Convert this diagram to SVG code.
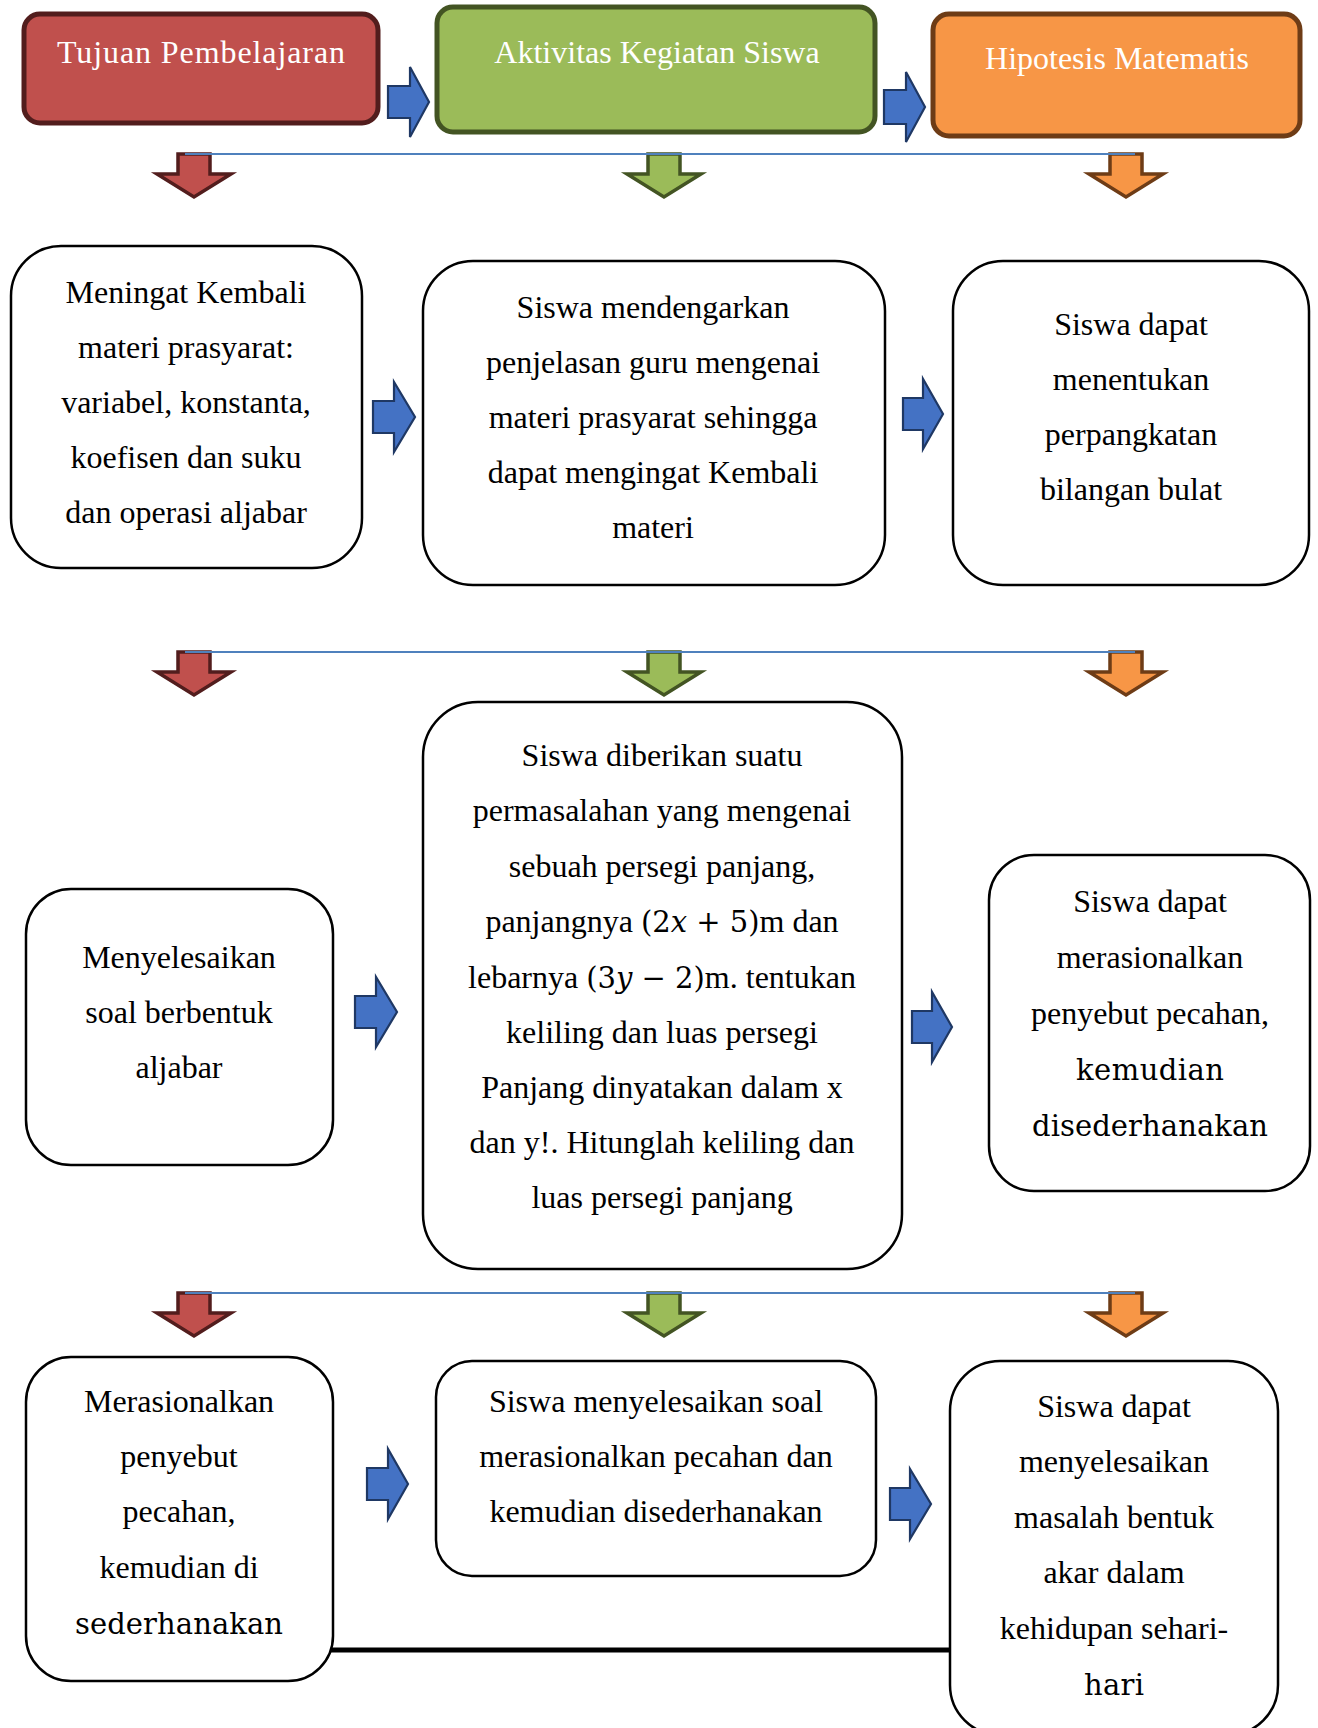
<svg xmlns="http://www.w3.org/2000/svg" width="1318" height="1728" viewBox="0 0 1318 1728">
<style>
.bg{fill:#ffffff}
.box{fill:#ffffff;stroke:#000000;stroke-width:2.5}
.hred{fill:#c0504d;stroke:#521d1d;stroke-width:5}
.hgrn{fill:#9bbb59;stroke:#435423;stroke-width:5}
.horg{fill:#f79646;stroke:#6e3c16;stroke-width:5}
.dred{fill:#c0504d;stroke:#521d1d;stroke-width:3.5;stroke-linejoin:miter}
.dgrn{fill:#9bbb59;stroke:#435423;stroke-width:3.5;stroke-linejoin:miter}
.dorg{fill:#f79646;stroke:#6e3c16;stroke-width:3.5;stroke-linejoin:miter}
.rarr{fill:#4472c4;stroke:#1f3864;stroke-width:2.2;stroke-linejoin:miter}
.bline{stroke:#4f81bd;stroke-width:2;fill:none}
.thick{stroke:#000000;stroke-width:5;fill:none}
text{font-family:"Liberation Serif","Times New Roman",serif;font-size:32px;fill:#000000;text-anchor:middle}
.ht{fill:#ffffff;font-size:32px}
.cm{font-family:"DejaVu Serif","Liberation Serif",serif;font-size:29px}
.mi{font-family:"DejaVu Serif","Liberation Serif",serif;font-size:29px}
</style>
<rect class="bg" x="0" y="0" width="1318" height="1728"/>

<g id="connectors">
  <!-- header right arrows -->
  <path class="rarr" d="M388,86 H410 V67 L429,102 L410,137 V118 H388 Z"/>
  <path class="rarr" d="M884,90 H906 V72 L925,107 L906,142 V124 H884 Z"/>
  <!-- row 1 down arrows -->
  <path class="dred" d="M178,154 H210 V174 H231 L194,197 L157,174 H178 Z"/>
  <path class="dgrn" d="M648,154 H680 V174 H701 L664,197 L627,174 H648 Z"/>
  <path class="dorg" d="M1110,154 H1142 V174 H1163 L1126,197 L1089,174 H1110 Z"/>
  <line class="bline" x1="185" y1="154" x2="1135" y2="154"/>
  <!-- row 2 right arrows -->
  <path class="rarr" d="M373,401 H394 V382 L415,417 L394,452 V433 H373 Z"/>
  <path class="rarr" d="M903,398 H923 V379 L943,414 L923,449 V430 H903 Z"/>
  <!-- row 2 down arrows -->
  <path class="dred" d="M178,652 H210 V672 H231 L194,695 L157,672 H178 Z"/>
  <path class="dgrn" d="M648,652 H680 V672 H701 L664,695 L627,672 H648 Z"/>
  <path class="dorg" d="M1110,652 H1142 V672 H1163 L1126,695 L1089,672 H1110 Z"/>
  <line class="bline" x1="185" y1="652" x2="1135" y2="652"/>
  <!-- row 3 right arrows -->
  <path class="rarr" d="M355,996 H376 V977 L397,1012 L376,1047 V1028 H355 Z"/>
  <path class="rarr" d="M912,1011 H932 V992 L952,1027 L932,1062 V1043 H912 Z"/>
  <!-- row 3 down arrows -->
  <path class="dred" d="M178,1293 H210 V1313 H231 L194,1336 L157,1313 H178 Z"/>
  <path class="dgrn" d="M648,1293 H680 V1313 H701 L664,1336 L627,1313 H648 Z"/>
  <path class="dorg" d="M1110,1293 H1142 V1313 H1163 L1126,1336 L1089,1313 H1110 Z"/>
  <line class="bline" x1="185" y1="1293" x2="1135" y2="1293"/>
  <!-- row 4 right arrows -->
  <path class="rarr" d="M367,1468 H388 V1449 L408,1484 L388,1519 V1500 H367 Z"/>
  <path class="rarr" d="M890,1488 H910 V1469 L931,1504 L910,1539 V1520 H890 Z"/>
  <!-- bottom thick line -->
  <line class="thick" x1="331" y1="1650" x2="952" y2="1650"/>
</g>

<g id="h-tujuan">
  <rect class="hred" x="24" y="14" width="354" height="109" rx="16"/>
  <text class="ht" x="201" y="63" textLength="288">Tujuan Pembelajaran</text>
</g>
<g id="h-aktivitas">
  <rect class="hgrn" x="437" y="7" width="438" height="125" rx="16"/>
  <text class="ht" x="657" y="63">Aktivitas Kegiatan Siswa</text>
</g>
<g id="h-hipotesis">
  <rect class="horg" x="933" y="14" width="367" height="122" rx="16"/>
  <text class="ht" x="1117" y="69">Hipotesis Matematis</text>
</g>

<g id="r2-tujuan">
  <rect class="box" x="11" y="246" width="351" height="322" rx="50"/>
  <text x="186" y="303">Meningat Kembali</text>
  <text x="186" y="358">materi prasyarat:</text>
  <text x="186" y="413">variabel, konstanta,</text>
  <text x="186" y="468">koefisen dan suku</text>
  <text x="186" y="523">dan operasi aljabar</text>
</g>
<g id="r2-aktivitas">
  <rect class="box" x="423" y="261" width="462" height="324" rx="50"/>
  <text x="653" y="318">Siswa mendengarkan</text>
  <text x="653" y="373">penjelasan guru mengenai</text>
  <text x="653" y="428">materi prasyarat sehingga</text>
  <text x="653" y="483">dapat mengingat Kembali</text>
  <text x="653" y="538">materi</text>
</g>
<g id="r2-hipotesis">
  <rect class="box" x="953" y="261" width="356" height="324" rx="50"/>
  <text x="1131" y="335">Siswa dapat</text>
  <text x="1131" y="390">menentukan</text>
  <text x="1131" y="445">perpangkatan</text>
  <text x="1131" y="500">bilangan bulat</text>
</g>

<g id="r3-tujuan">
  <rect class="box" x="26" y="889" width="307" height="276" rx="45"/>
  <text x="179" y="968">Menyelesaikan</text>
  <text x="179" y="1023">soal berbentuk</text>
  <text x="179" y="1078">aljabar</text>
</g>
<g id="r3-aktivitas">
  <rect class="box" x="423" y="702" width="479" height="567" rx="55"/>
  <text x="662" y="766">Siswa diberikan suatu</text>
  <text x="662" y="821">permasalahan yang mengenai</text>
  <text x="662" y="877">sebuah persegi panjang,</text>
  <text x="662" y="932">panjangnya <tspan class="mi">(2</tspan><tspan class="mi" font-style="italic">x</tspan><tspan class="mi"> + 5)</tspan>m dan</text>
  <text x="662" y="988">lebarnya <tspan class="mi">(3</tspan><tspan class="mi" font-style="italic">y</tspan><tspan class="mi"> − 2)</tspan>m. tentukan</text>
  <text x="662" y="1043">keliling dan luas persegi</text>
  <text x="662" y="1098">Panjang dinyatakan dalam x</text>
  <text x="662" y="1153">dan y!. Hitunglah keliling dan</text>
  <text x="662" y="1208">luas persegi panjang</text>
</g>
<g id="r3-hipotesis">
  <rect class="box" x="989" y="855" width="321" height="336" rx="45"/>
  <text x="1150" y="912">Siswa dapat</text>
  <text x="1150" y="968">merasionalkan</text>
  <text x="1150" y="1024">penyebut pecahan,</text>
  <text class="cm" x="1150" y="1080" textLength="148">kemudian</text>
  <text class="cm" x="1150" y="1136" textLength="236">disederhanakan</text>
</g>

<g id="r4-tujuan">
  <rect class="box" x="26" y="1357" width="307" height="324" rx="45"/>
  <text x="179" y="1412">Merasionalkan</text>
  <text x="179" y="1467">penyebut</text>
  <text x="179" y="1522">pecahan,</text>
  <text x="179" y="1578">kemudian di</text>
  <text class="cm" x="179" y="1634" textLength="208">sederhanakan</text>
</g>
<g id="r4-aktivitas">
  <rect class="box" x="436" y="1361" width="440" height="215" rx="36"/>
  <text x="656" y="1412">Siswa menyelesaikan soal</text>
  <text x="656" y="1467">merasionalkan pecahan dan</text>
  <text x="656" y="1522">kemudian disederhanakan</text>
</g>
<g id="r4-hipotesis">
  <rect class="box" x="950" y="1361" width="328" height="374" rx="50"/>
  <text x="1114" y="1417">Siswa dapat</text>
  <text x="1114" y="1472">menyelesaikan</text>
  <text x="1114" y="1528">masalah bentuk</text>
  <text x="1114" y="1583">akar dalam</text>
  <text x="1114" y="1639">kehidupan sehari-</text>
  <text class="cm" x="1114" y="1695" textLength="60">hari</text>
</g>
</svg>
